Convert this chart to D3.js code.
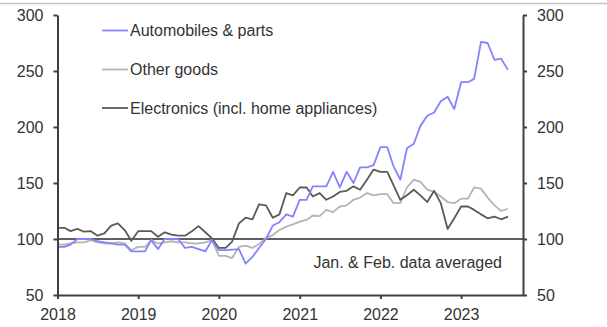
<!DOCTYPE html>
<html>
<head>
<meta charset="utf-8">
<script src="https://cdn.jsdelivr.net/npm/d3@7"></script>
<style>
  html, body { margin: 0; padding: 0; background: #fff; }
  svg { display: block; font-family: "Liberation Sans", Arial, sans-serif; }
</style>
</head>
<body>
<svg id="chart" width="607" height="327"></svg>
<script>
// ---- Data (monthly, Jan 2018 - Aug 2023; index 100 baseline) ----
const startYear = 2018;
const autos = [93,93,95,100,100,100,98,97,96,95,95,89,
  89,89,99,91,100,100,100,92,93,91,89,99,
  90,90,90.5,91,78,84,92,100,112,115,122,120,
  135,135,147,147,147,160,146,160,150,164,164,166,
  182,182,165,153,181,185,201,210,213,223,227,216,
  240,240,243,276,275,260,261,251];
const otherGoods = [95,95,96,97,97,99,97,96,96,97,96,90,
  93,93,99,96,97,98,97,97,96,96,97,99,
  85,85,83,93,94,92,95.5,100.6,103.5,108,111,113,
  115.5,117,121,120.5,126,124,129,130,135,137,141,139,
  140,140,132,132,146,153,151,144,142,138,133,132,
  136,136,146,145,137,130,125,127];
const electronics = [110,110,107,109,106.5,107,103,105,112,114,108,98.5,
  107,107,107,102,106,104,103,103,107,111.5,106,100.6,
  92,92,97.6,114,119,117.6,131,130,119,122,141,139,
  146,146,138,141,135,138,142,143,147,144,153,162,
  160,160,148,135,139,144,139,133,143,132,109,118.5,
  129,129,126,122,118.5,120,117.6,120];
const seriesNames = ["Automobiles & parts", "Other goods", "Electronics (incl. home appliances)"];
const yTicks = [50,100,150,200,250,300];
const xTickYears = [2018,2019,2020,2021,2022,2023];
const note = "Jan. & Feb. data averaged";

// ---- Layout ----
const svg = d3.select("#chart");
const mLeft = 57.5, mRight = 523, mTop = 15, mBottom = 295;
const axisColor = "#404040";
const textColor = "#333";
const colors = { autos: "#8383ff", other: "#b4b4b4", elec: "#5a5a5a" };

const x = d3.scaleTime()
  .domain([new Date(2018,0,1), new Date(2023,9,8)])
  .range([mLeft, mRight]);
const y = d3.scaleLinear().domain([50,300]).range([mBottom, mTop]);

const dates = d3.range(autos.length).map(i => new Date(startYear, i, 1));

// top rule (page border)
svg.append("line").attr("x1",0).attr("x2",607).attr("y1",3.5).attr("y2",3.5)
  .attr("stroke","#c4c4c4").attr("stroke-width",1.5);

// 100 baseline
svg.append("line")
  .attr("x1", mLeft).attr("x2", mRight)
  .attr("y1", y(100)).attr("y2", y(100))
  .attr("stroke", "#5f5f5f").attr("stroke-width", 2);

// lines
const line = d3.line().x((d,i) => x(dates[i])).y(d => y(d));
function drawSeries(data, color) {
  svg.append("path").datum(data)
    .attr("fill","none").attr("stroke",color)
    .attr("stroke-width",1.8).attr("stroke-linejoin","round")
    .attr("d", line);
}
drawSeries(otherGoods, colors.other);
drawSeries(electronics, colors.elec);
drawSeries(autos, colors.autos);

// axes
function styleAxis(g) {
  g.selectAll("path.domain").attr("stroke", axisColor).attr("stroke-width", 2);
  g.selectAll(".tick line").attr("stroke", axisColor).attr("stroke-width", 2);
  g.selectAll("text").attr("fill", textColor).attr("font-size", 16)
    .attr("font-family", '"Liberation Sans", Arial, sans-serif');
}
svg.append("g").attr("transform", `translate(${mLeft},0)`)
  .call(d3.axisLeft(y).tickValues(yTicks).tickSize(4).tickSizeOuter(0).tickPadding(10))
  .call(styleAxis);
svg.append("g").attr("transform", `translate(${mRight},0)`)
  .call(d3.axisRight(y).tickValues(yTicks).tickSize(4).tickSizeOuter(0).tickPadding(10))
  .call(styleAxis);
svg.append("g").attr("transform", `translate(0,${mBottom})`)
  .call(d3.axisBottom(x).tickValues(xTickYears.map(yr => new Date(yr,0,1)))
    .tickFormat(d3.timeFormat("%Y")).tickSize(4).tickSizeOuter(0).tickPadding(9.5))
  .call(styleAxis);

// legend
const legend = [
  { name: seriesNames[0], color: colors.autos, y: 30.5 },
  { name: seriesNames[1], color: colors.other, y: 69.5 },
  { name: seriesNames[2], color: colors.elec, y: 108 }
];
legend.forEach(l => {
  svg.append("line").attr("x1",102).attr("x2",128).attr("y1",l.y).attr("y2",l.y)
    .attr("stroke", l.color).attr("stroke-width", 1.8);
  svg.append("text").attr("x",130).attr("y",l.y).attr("dy","0.35em")
    .attr("font-size",16).attr("fill",textColor).text(l.name);
});

// note
svg.append("text").attr("x", 502).attr("y", 268).attr("text-anchor","end")
  .attr("font-size",16).attr("fill",textColor).text(note);
</script>
</body>
</html>
